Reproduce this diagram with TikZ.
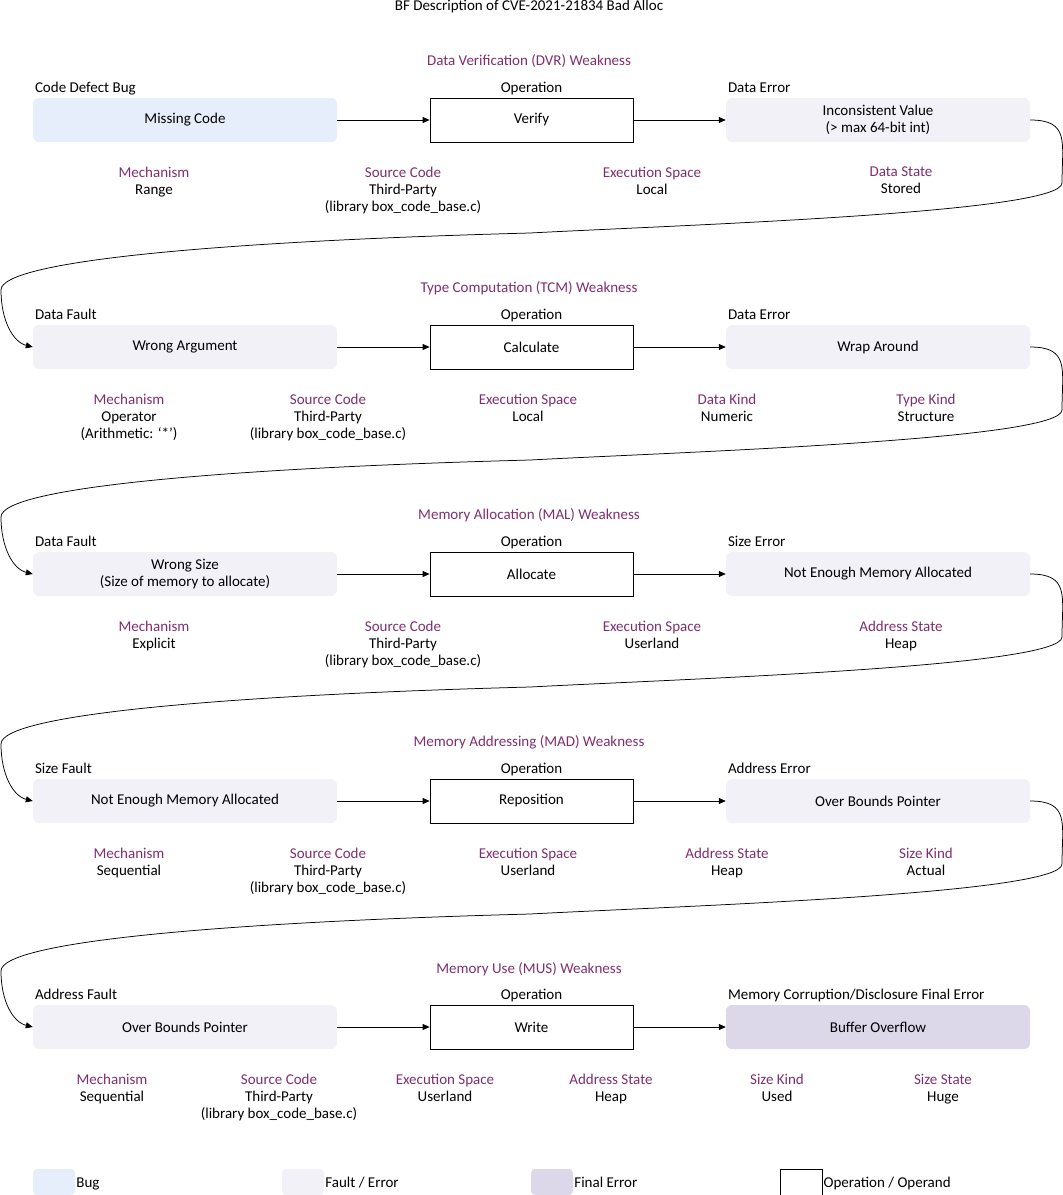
\documentclass[tikz,border=0pt]{standalone}
\usepackage{fontspec}
\setmainfont{Carlito}
\usetikzlibrary{arrows.meta}

\definecolor{bugfill}{HTML}{E6EEFB}
\definecolor{faultfill}{HTML}{F3F1F8}
\definecolor{finalfill}{HTML}{DCD8E9}
\definecolor{bfpurple}{HTML}{7F2F6E}

\begin{document}
\begin{tikzpicture}[x=1pt,y=-1pt,
    every node/.style={font=\fontsize{15}{17}\selectfont,align=center},
    bug/.style={fill=bugfill,rounded corners=6pt,minimum width=304,minimum height=44},
    fault/.style={fill=faultfill,rounded corners=6pt,minimum width=304,minimum height=44},
    final/.style={fill=finalfill,rounded corners=6pt,minimum width=304,minimum height=44},
    oper/.style={draw,line width=.75pt,minimum width=203,minimum height=44},
    lbl/.style={inner sep=2pt,text height=10pt,text depth=3pt},
    weak/.style={text=bfpurple},
    attr/.style={anchor=north,inner sep=0pt},
    key/.style={rounded corners=4pt,minimum width=42,minimum height=26},
    flow/.style={draw,line width=.75pt,-{Triangle[length=7pt,width=6pt]}}]

  \useasboundingbox (0,0) rectangle (1063,1195);

  \node (title) at (529,6) {BF Description of CVE-2021-21834 Bad Alloc};

  % DVR
  \node[weak] (w1) at (529,61) {Data Verification (DVR) Weakness};
  \node[bug]   (l1) at (185,120) {Missing Code};
  \node[oper]  (o1) at (531.5,120) {Verify};
  \node[fault] (r1) at (878,120) {Inconsistent Value\\(> max 64-bit int)};
  \node[lbl,anchor=south west] (l1t) at (l1.north west) {Code Defect Bug};
  \node[lbl,anchor=south] (o1t) at (o1.north) {Operation};
  \node[lbl,anchor=south west] (r1t) at (r1.north west) {Data Error};
  \node[attr] (a11) at (154,167) {\textcolor{bfpurple}{Mechanism}\\Range};
  \node[attr] (a12) at (403,167) {\textcolor{bfpurple}{Source Code}\\Third-Party\\(library box\_code\_base.c)};
  \node[attr] (a13) at (652,167) {\textcolor{bfpurple}{Execution Space}\\Local};
  \node[attr] (a14) at (901,167) {\textcolor{bfpurple}{Data State}\\Stored};

  % TCM
  \node[weak] (w2) at (529,288) {Type Computation (TCM) Weakness};
  \node[fault] (l2) at (185,347) {Wrong Argument};
  \node[oper]  (o2) at (531.5,347) {Calculate};
  \node[fault] (r2) at (878,347) {Wrap Around};
  \node[lbl,anchor=south west] (l2t) at (l2.north west) {Data Fault};
  \node[lbl,anchor=south] (o2t) at (o2.north) {Operation};
  \node[lbl,anchor=south west] (r2t) at (r2.north west) {Data Error};
  \node[attr] (a21) at (129,394) {\textcolor{bfpurple}{Mechanism}\\Operator\\(Arithmetic: ‘*’)};
  \node[attr] (a22) at (328,394) {\textcolor{bfpurple}{Source Code}\\Third-Party\\(library box\_code\_base.c)};
  \node[attr] (a23) at (528,394) {\textcolor{bfpurple}{Execution Space}\\Local};
  \node[attr] (a24) at (727,394) {\textcolor{bfpurple}{Data Kind}\\Numeric};
  \node[attr] (a25) at (926,394) {\textcolor{bfpurple}{Type Kind}\\Structure};

  % MAL
  \node[weak] (w3) at (529,515) {Memory Allocation (MAL) Weakness};
  \node[fault] (l3) at (185,574) {Wrong Size\\(Size of memory to allocate)};
  \node[oper]  (o3) at (531.5,574) {Allocate};
  \node[fault] (r3) at (878,574) {Not Enough Memory Allocated};
  \node[lbl,anchor=south west] (l3t) at (l3.north west) {Data Fault};
  \node[lbl,anchor=south] (o3t) at (o3.north) {Operation};
  \node[lbl,anchor=south west] (r3t) at (r3.north west) {Size Error};
  \node[attr] (a31) at (154,621) {\textcolor{bfpurple}{Mechanism}\\Explicit};
  \node[attr] (a32) at (403,621) {\textcolor{bfpurple}{Source Code}\\Third-Party\\(library box\_code\_base.c)};
  \node[attr] (a33) at (652,621) {\textcolor{bfpurple}{Execution Space}\\Userland};
  \node[attr] (a34) at (901,621) {\textcolor{bfpurple}{Address State}\\Heap};

  % MAD
  \node[weak] (w4) at (529,742) {Memory Addressing (MAD) Weakness};
  \node[fault] (l4) at (185,801) {Not Enough Memory Allocated};
  \node[oper]  (o4) at (531.5,801) {Reposition};
  \node[fault] (r4) at (878,801) {Over Bounds Pointer};
  \node[lbl,anchor=south west] (l4t) at (l4.north west) {Size Fault};
  \node[lbl,anchor=south] (o4t) at (o4.north) {Operation};
  \node[lbl,anchor=south west] (r4t) at (r4.north west) {Address Error};
  \node[attr] (a41) at (129,848) {\textcolor{bfpurple}{Mechanism}\\Sequential};
  \node[attr] (a42) at (328,848) {\textcolor{bfpurple}{Source Code}\\Third-Party\\(library box\_code\_base.c)};
  \node[attr] (a43) at (528,848) {\textcolor{bfpurple}{Execution Space}\\Userland};
  \node[attr] (a44) at (727,848) {\textcolor{bfpurple}{Address State}\\Heap};
  \node[attr] (a45) at (926,848) {\textcolor{bfpurple}{Size Kind}\\Actual};

  % MUS
  \node[weak] (w5) at (529,969) {Memory Use (MUS) Weakness};
  \node[fault] (l5) at (185,1027) {Over Bounds Pointer};
  \node[oper]  (o5) at (531.5,1027) {Write};
  \node[final] (r5) at (878,1027) {Buffer Overflow};
  \node[lbl,anchor=south west] (l5t) at (l5.north west) {Address Fault};
  \node[lbl,anchor=south] (o5t) at (o5.north) {Operation};
  \node[lbl,anchor=south west] (r5t) at (r5.north west) {Memory Corruption/Disclosure Final Error};
  \node[attr] (a51) at (112,1074) {\textcolor{bfpurple}{Mechanism}\\Sequential};
  \node[attr] (a52) at (279,1074) {\textcolor{bfpurple}{Source Code}\\Third-Party\\(library box\_code\_base.c)};
  \node[attr] (a53) at (445,1074) {\textcolor{bfpurple}{Execution Space}\\Userland};
  \node[attr] (a54) at (611,1074) {\textcolor{bfpurple}{Address State}\\Heap};
  \node[attr] (a55) at (777,1074) {\textcolor{bfpurple}{Size Kind}\\Used};
  \node[attr] (a56) at (943,1074) {\textcolor{bfpurple}{Size State}\\Huge};

  % straight arrows
  \foreach \i in {1,...,5} {
    \path[flow] (l\i) -- (o\i);
    \path[flow] (o\i) -- (r\i);
  }

  % row to row
  \foreach \a/\b/\y in {r1/l2/120, r2/l3/347, r3/l4/574, r4/l5/801}
    \path[flow] (\a.east) .. controls +(40,0) and +(0,-40) .. (1062,\y+63)
      .. controls +(0,30) and +(150,-8) .. (530,\y+113)
      .. controls +(-300,8) and +(0,-30) .. (1,\y+170)
      .. controls +(0,30) and +(-20,-5) .. (\b.west);

  % legend
  \node[key,fill=bugfill] (k1) at (54,1182) {};
  \node[lbl,anchor=west,inner sep=1pt,yshift=-2pt] (k1t) at (k1.east) {Bug};
  \node[key,fill=faultfill] (k2) at (303,1182) {};
  \node[lbl,anchor=west,inner sep=1pt,yshift=-2pt] (k2t) at (k2.east) {Fault / Error};
  \node[key,fill=finalfill] (k3) at (552,1182) {};
  \node[lbl,anchor=west,inner sep=1pt,yshift=-2pt] (k3t) at (k3.east) {Final Error};
  \node[key,draw,rounded corners=0pt,line width=.75pt] (k4) at (801,1182) {};
  \node[lbl,anchor=west,inner sep=1pt,yshift=-2pt] (k4t) at (k4.east) {Operation / Operand};

\end{tikzpicture}
\end{document}
